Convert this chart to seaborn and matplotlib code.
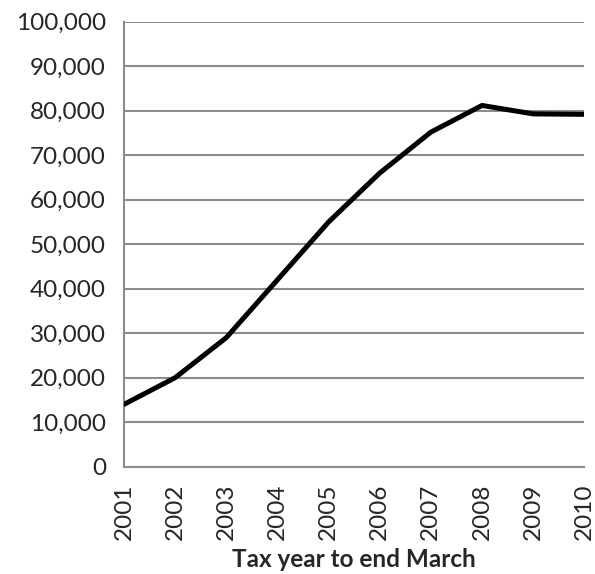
import pandas as pd
import matplotlib.pyplot as plt
import seaborn as sns
from matplotlib.ticker import FuncFormatter, MultipleLocator

years = ['2001', '2002', '2003', '2004', '2005', '2006', '2007', '2008', '2009', '2010']
values = [14000, 20000, 29000, 42000, 55000, 66000, 75200, 81200, 79300, 79200]

df = pd.DataFrame({'Year': years, 'Value': values})

sns.set_style("white")
plt.rcParams['font.family'] = ['Lato', 'DejaVu Sans']

fig = plt.figure(figsize=(5.95, 5.74), dpi=100)
ax = fig.add_axes([0.2084, 0.187, 0.7736, 0.775])

x = list(range(len(years)))
sns.lineplot(x=x, y=df['Value'], ax=ax, color='black', linewidth=3.6, zorder=3)

ax.set_xlim(0, len(years) - 1)
ax.set_ylim(0, 100000)
ax.set_xticks(x)
ax.set_xticklabels(years, rotation=90, fontsize=17.5)
ax.yaxis.set_major_locator(MultipleLocator(10000))
ax.yaxis.set_major_formatter(FuncFormatter(lambda v, p: f'{int(v):,}'))
ax.tick_params(axis='y', labelsize=17.5, length=8, width=1.5, color='#8c8c8c', pad=5)
ax.tick_params(axis='x', length=6, width=1.5, color='#8c8c8c', pad=6)
ax.yaxis.grid(True, color='#8c8c8c', linewidth=1.5)
ax.xaxis.grid(False)

for s in ['top', 'right']:
    ax.spines[s].set_visible(False)
for s in ['left', 'bottom']:
    ax.spines[s].set_color('#8c8c8c')
    ax.spines[s].set_linewidth(1.5)

ax.set_ylabel('')
ax.set_xlabel('Tax year to end March', fontsize=17.5, fontweight='bold', labelpad=6)

plt.savefig('out.png', dpi=100)
